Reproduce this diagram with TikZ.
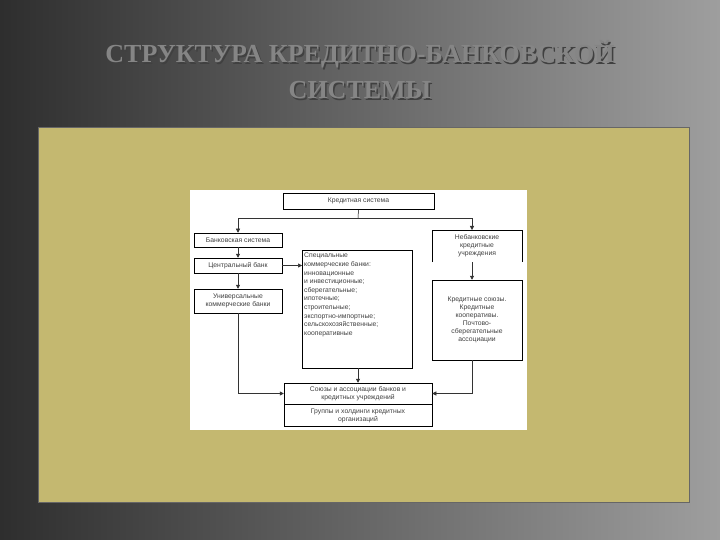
\documentclass[tikz,border=0pt]{standalone}
\usepackage{fontspec}
\setmainfont{Liberation Sans}
\newfontfamily\titlefont{Liberation Serif}
\usetikzlibrary{arrows.meta}
\tikzset{
 bx/.style={draw=black,line width=0.5pt,fill=white,inner sep=1pt,font=\fontsize{6.8}{8}\selectfont,text=black!75,align=center},
 ar/.style={-{Triangle[length=4pt,width=4pt]},line width=0.5pt,draw=black!80},
 ttl/.style={font=\titlefont\bfseries\fontsize{26}{36}\selectfont,align=center}
}
\begin{document}
\begin{tikzpicture}[x=1pt,y=-1pt]
\shade[left color=black!82,right color=black!38] (0,0) rectangle (720,540);
\useasboundingbox (0,0) rectangle (720,540);
\draw[fill={rgb,255:red,196;green,184;blue,112},draw=black!60,line width=1pt] (38,128) rectangle (689,502);
\fill[white] (190,190) rectangle (527,430);
\node[ttl,text=black!75] at (361.5,71.5) {СТРУКТУРА КРЕДИТНО-БАНКОВСКОЙ\\СИСТЕМЫ};
\node[ttl,text=black!48] (title) at (360,70) {СТРУКТУРА КРЕДИТНО-БАНКОВСКОЙ\\СИСТЕМЫ};
\node[bx,minimum width=151pt,minimum height=16pt] (ks) at (358.5,201) {Кредитная система};
\node[bx,minimum width=88pt,minimum height=14pt] (bs) at (238,240) {Банковская система};
\node[bx,minimum width=88pt,minimum height=15pt] (cb) at (238,265.5) {Центральный банк};
\node[bx,minimum width=88pt,minimum height=24pt] (ub) at (238,301) {Универсальные\\коммерческие банки};
\draw[line width=0.5pt,fill=white] (302,250) rectangle (412,368);
\node[font=\fontsize{6.8}{8.6}\selectfont,text=black!75,align=left,anchor=north west,inner sep=0pt] (sp) at (304,253) {Специальные\\коммерческие банки:\\инновационные\\и инвестиционные;\\сберегательные;\\ипотечные;\\строительные;\\экспортно-импортные;\\сельскохозяйственные;\\кооперативные};
\coordinate (spw) at (302,265.5);
\coordinate (sps) at (358,368);
\draw[line width=0.5pt] (432,262) -- (432,230) -- (522,230) -- (522,262);
\node[font=\fontsize{6.8}{8}\selectfont,text=black!75,align=center] (nb) at (477,246) {Небанковские\\кредитные\\учреждения};
\coordinate (nbt) at (472,230);
\coordinate (nbb) at (472,262);
\node[bx,minimum width=90pt,minimum height=80pt] (kk) at (477,320) {Кредитные союзы.\\Кредитные\\кооперативы.\\Почтово-\\сберегательные\\ассоциации};
\node[bx,minimum width=148pt,minimum height=21pt] (sa) at (358,393.5) {Союзы и ассоциации банков и\\кредитных учреждений};
\node[bx,minimum width=148pt,minimum height=22pt,anchor=north] (gh) at (sa.south) {Группы и холдинги кредитных\\организаций};
\coordinate (j) at (358,218);
\draw[line width=0.5pt] (ks.south) -- (j);
\draw[ar] (j) -| (bs.north);
\draw[ar] (j) -| (nbt);
\draw[ar] (bs) -- (cb);
\draw[ar] (cb) -- (ub);
\draw[ar] (cb.east) -- (spw);
\draw[ar] (nbb) -- (kk.north-|nbb);
\draw[ar] (sps) -- (sa.north);
\draw[ar] (ub.south) |- (sa.west);
\draw[ar] (kk.south-|nbb) |- (sa.east);
\end{tikzpicture}
\end{document}
